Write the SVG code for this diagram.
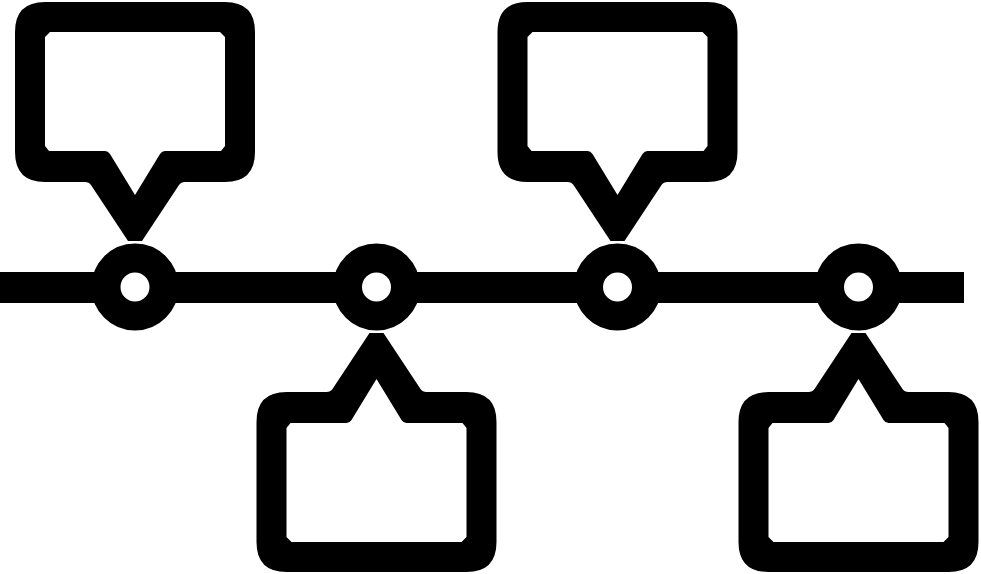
<svg xmlns="http://www.w3.org/2000/svg" xmlns:xlink="http://www.w3.org/1999/xlink" width="981" height="574" viewBox="0 0 981 574">
<style>
.ink{fill:#000;fill-rule:evenodd}
.ring{fill:#fff;stroke:#000;stroke-width:29}
</style>
<defs>
<path id="bubble" class="ink" d="M -90,2 H 90 Q 120,2 120,32 V 152 Q 120,182 90,182 H 50 Q 46,182 44,185 L 7,241 L -7,241 L -44,185 Q -46,182 -50,182 H -90 Q -120,182 -120,152 V 32 Q -120,2 -90,2 Z M -85,32 H 85 L 90,37 V 146 L 86,151 H 30 Q 27,151 25,154 L 0,195 L -25,154 Q -27,151 -30,151 H -86 L -90,146 V 37 Z"/>
</defs>
<rect width="981" height="574" fill="#fff"/>
<g id="connectors">
<rect x="0" y="272" width="964" height="31" fill="#000"/>
</g>
<g id="node1">
<use xlink:href="#bubble" transform="translate(135,0)"/>
<circle class="ring" cx="135" cy="287" r="29"/>
</g>
<g id="node2">
<use xlink:href="#bubble" transform="translate(376.5,574) scale(1,-1)"/>
<circle class="ring" cx="376.5" cy="287" r="29"/>
</g>
<g id="node3">
<use xlink:href="#bubble" transform="translate(617.5,0)"/>
<circle class="ring" cx="617.5" cy="287" r="29"/>
</g>
<g id="node4">
<use xlink:href="#bubble" transform="translate(858.5,574) scale(1,-1)"/>
<circle class="ring" cx="858.5" cy="287" r="29"/>
</g>
</svg>
